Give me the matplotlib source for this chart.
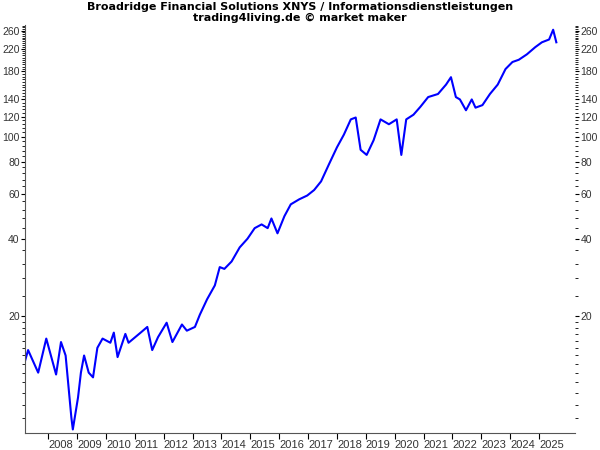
import matplotlib
matplotlib.use("Agg")
import matplotlib.pyplot as plt
from matplotlib.ticker import FixedLocator, FixedFormatter, NullFormatter

plt.rcParams["font.family"] = ["Liberation Sans", "DejaVu Sans"]

years = [2007.2, 2007.3, 2007.65, 2007.93, 2008.27, 2008.44, 2008.6, 2008.8, 2008.85,
         2009.03, 2009.13, 2009.24, 2009.4, 2009.55, 2009.7, 2009.88, 2010.15, 2010.27,
         2010.4, 2010.67, 2010.78, 2011.2, 2011.43, 2011.6, 2011.8, 2012.1, 2012.3,
         2012.63, 2012.8, 2013.08, 2013.25, 2013.5, 2013.77, 2013.94, 2014.1, 2014.35,
         2014.63, 2014.9, 2015.15, 2015.39, 2015.6, 2015.73, 2015.94, 2016.18, 2016.4,
         2016.69, 2016.97, 2017.21, 2017.45, 2017.72, 2018.0, 2018.24, 2018.48, 2018.65,
         2018.82, 2019.03, 2019.27, 2019.51, 2019.8, 2020.07, 2020.23, 2020.4, 2020.65,
         2020.89, 2021.16, 2021.5, 2021.78, 2021.95, 2022.12, 2022.26, 2022.47, 2022.67,
         2022.8, 2023.04, 2023.3, 2023.57, 2023.84, 2024.08, 2024.3, 2024.58, 2024.87,
         2025.1, 2025.35, 2025.49, 2025.6]
price = [13.4, 14.7, 12.0, 16.3, 11.8, 15.8, 14.0, 8.0, 7.2,
         9.6, 12.0, 14.0, 12.0, 11.5, 15.0, 16.3, 15.7, 17.2,
         13.8, 17.0, 15.7, 17.2, 18.1, 14.7, 16.5, 18.8, 15.8,
         18.5, 17.5, 18.1, 20.2, 23.2, 26.3, 31.0, 30.5, 32.6,
         37.0, 40.0, 44.0, 45.5, 44.0, 48.0, 42.0, 49.0, 54.5,
         57.0, 59.0, 62.0, 67.0, 78.0, 91.0, 102.0, 117.0, 119.0,
         89.0, 85.0, 97.0, 117.0, 112.0, 117.0, 85.0, 117.0, 122.0,
         131.0, 143.0, 147.0, 160.0, 171.0, 143.0, 140.0, 127.0, 140.0,
         130.0, 133.0, 147.0, 160.0, 184.0, 196.0, 200.0, 210.0, 224.0,
         234.0, 240.0, 262.0, 234.0]

yticks = [20, 40, 60, 80, 100, 120, 140, 180, 220, 260]
xyears = list(range(2008, 2026))

fig = plt.figure(figsize=(6, 4.5), dpi=100)
ax = fig.add_axes([0.042, 0.038, 0.916, 0.907])
ax.plot(years, price, color="#0000ff", lw=1.5)
ax.set_yscale("log")
ax.set_ylim(6.98, 274)
ax.set_xlim(2007.2, 2026.24)

ax.yaxis.set_major_locator(FixedLocator(yticks))
ax.yaxis.set_major_formatter(FixedFormatter([str(t) for t in yticks]))
ax.yaxis.set_minor_locator(FixedLocator(list(range(8, 20)) + list(range(20, 280, 4))))
ax.yaxis.set_minor_formatter(NullFormatter())
ax.tick_params(axis="y", which="both", left=True, right=True, labelleft=True, labelright=True,
               labelsize=7.5, labelcolor="#333333", length=3, pad=1)
ax.tick_params(axis="y", which="minor", length=2)

ax.set_xticks(xyears)
ax.set_xticklabels([str(y) for y in xyears], ha="left")
ax.tick_params(axis="x", labelsize=8, labelcolor="#333333", length=4, pad=1)

for s in ["top", "right"]:
    ax.spines[s].set_visible(False)
for s in ["left", "bottom"]:
    ax.spines[s].set_color("#555555")

fig.text(0.5, 0.995, "Broadridge Financial Solutions XNYS / Informationsdienstleistungen\n"
         "trading4living.de © market maker", ha="center", va="top",
         fontsize=8, fontweight="bold", linespacing=1.1, family="DejaVu Sans")
fig.savefig("out.png")
